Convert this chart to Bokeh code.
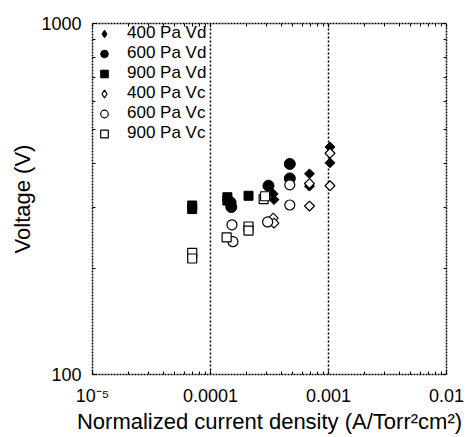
import numpy as np
from bokeh.plotting import figure
from bokeh.models import (LogAxis, FixedTicker, CustomJSTickFormatter, Legend, LegendItem)
from bokeh.embed import file_html
from bokeh.resources import INLINE

# ---- data ----
x_400 = [3.4e-4, 3.45e-4, 6.9e-4, 6.9e-4, 1.03e-3, 1.03e-3]
vd_400 = [327, 315, 373, 344, 445, 401]
vc_400 = [279, 270, 350, 302, 427, 345]

x_600_vd = [1.48e-4, 1.50e-4, 3.1e-4, 4.7e-4, 4.7e-4]
vd_600 = [309, 300, 345, 398, 362]
x_600_vc = [1.52e-4, 1.55e-4, 3.05e-4, 4.7e-4, 4.7e-4]
vc_600 = [267, 239, 272, 347, 304]

x_900_vd = [7.0e-5, 7.0e-5, 1.39e-4, 1.39e-4, 2.1e-4]
vd_900 = [303, 296, 320, 313, 323]
x_900_vc = [7.0e-5, 7.0e-5, 1.37e-4, 2.1e-4, 2.1e-4, 2.82e-4, 2.9e-4]
vc_900 = [222, 214, 246, 264, 257, 316, 322]

labels = ["400 Pa Vd", "600 Pa Vd", "900 Pa Vd", "400 Pa Vc", "600 Pa Vc", "900 Pa Vc"]

x_major = [1e-5, 1e-4, 1e-3, 1e-2]
x_minor = [m * 10.0 ** e for e in range(-5, -2) for m in range(2, 10)]
y_major = [100, 1000]
y_minor = [m * 100 for m in range(2, 10)]
x_grid = [1e-4, 1e-3]

FONT = "Liberation Sans"

p = figure(width=476, height=437, x_axis_type="log", y_axis_type="log",
           x_range=(1e-5, 1e-2), y_range=(100, 1000),
           output_backend="svg", toolbar_location=None,
           min_border_left=92, min_border_right=30, min_border_top=23, min_border_bottom=63)
p.background_fill_color = "white"
p.border_fill_color = "white"
p.outline_line_color = None

xfmt = CustomJSTickFormatter(code="""
const e = Math.round(Math.log10(tick));
if (e == -5) return "10\u207b\u2075";
if (e == -4) return "0.0001";
if (e == -3) return "0.001";
return "0.01";
""")
yfmt = CustomJSTickFormatter(code="return String(Math.round(tick));")
blank = CustomJSTickFormatter(code="return '';")

def style(ax, labels=True):
    ax.axis_line_color = "black"
    ax.axis_line_dash = "2 1"
    ax.axis_line_width = 1.5
    ax.major_tick_in = 4
    ax.major_tick_out = 0
    ax.minor_tick_in = 3
    ax.minor_tick_out = 0
    ax.major_tick_line_color = "black"
    ax.minor_tick_line_color = "black"
    ax.major_label_text_font = FONT
    ax.major_label_text_font_size = "18px" if labels else "1px"
    ax.major_label_text_color = "black"
    ax.axis_label_text_font = FONT
    ax.axis_label_text_font_size = "22px"
    ax.axis_label_text_font_style = "normal"
    ax.axis_label_text_color = "black"

xa = p.xaxis[0]
xa.ticker = FixedTicker(ticks=x_major, minor_ticks=x_minor)
xa.formatter = xfmt
style(xa)
xa.major_label_standoff = 11
xa.axis_label = "Normalized current density (A/Torr\u00b2cm\u00b2)"
xa.axis_label_standoff = 0

ya = p.yaxis[0]
ya.ticker = FixedTicker(ticks=y_major, minor_ticks=y_minor)
ya.formatter = yfmt
style(ya)
ya.major_label_standoff = 11
ya.axis_label = "Voltage (V)"
ya.axis_label_standoff = 3

xt = LogAxis(ticker=FixedTicker(ticks=x_major, minor_ticks=x_minor), formatter=blank)
style(xt, labels=False)
xt.major_label_standoff = 0
p.add_layout(xt, "above")
yr = LogAxis(ticker=FixedTicker(ticks=y_major, minor_ticks=y_minor), formatter=blank)
style(yr, labels=False)
yr.major_label_standoff = 0
p.add_layout(yr, "right")

p.ygrid.visible = False
p.xgrid.ticker = FixedTicker(ticks=x_grid, minor_ticks=[])
p.xgrid.grid_line_color = "black"
p.xgrid.grid_line_dash = "2 2"
p.xgrid.grid_line_width = 1.5

# legend-only diamond glyphs, drawn tiny underneath the real markers
d1 = p.scatter(x_400, vd_400, marker="diamond", size=0, fill_color="black", line_color="black")
d4 = p.scatter(x_400, vc_400, marker="diamond", size=0, fill_color="white", line_color="black", line_width=1.2)

ROT = np.pi / 4
r1 = p.scatter(x_400, vd_400, marker="square", angle=ROT, size=7, fill_color="black", line_color="black")
r2 = p.scatter(x_600_vd, vd_600, marker="circle", size=11, fill_color="black", line_color="black")
r3 = p.scatter(x_900_vd, vd_900, marker="square", size=9, fill_color="black", line_color="black")
r4 = p.scatter(x_400, vc_400, marker="square", angle=ROT, size=7, fill_color="white", line_color="black", line_width=1.2)
r5 = p.scatter(x_600_vc, vc_600, marker="circle", size=10, fill_color="white", line_color="black", line_width=1.2)
r6 = p.scatter(x_900_vc, vc_900, marker="square", size=9, fill_color="white", line_color="black", line_width=1.2)

legend = Legend(items=[
    LegendItem(label=labels[0], renderers=[d1]),
    LegendItem(label=labels[1], renderers=[r2]),
    LegendItem(label=labels[2], renderers=[r3]),
    LegendItem(label=labels[3], renderers=[d4]),
    LegendItem(label=labels[4], renderers=[r5]),
    LegendItem(label=labels[5], renderers=[r6]),
], location="top_left")
legend.margin = 0
legend.padding = 4
legend.spacing = 0
legend.glyph_width = 24
legend.glyph_height = 19
legend.label_height = 19
legend.label_standoff = 11
legend.label_text_font = FONT
legend.label_text_font_size = "17px"
legend.label_text_color = "black"
legend.border_line_color = None
legend.background_fill_alpha = 0
p.add_layout(legend)

open("out.html", "w").write(file_html(p, INLINE))
